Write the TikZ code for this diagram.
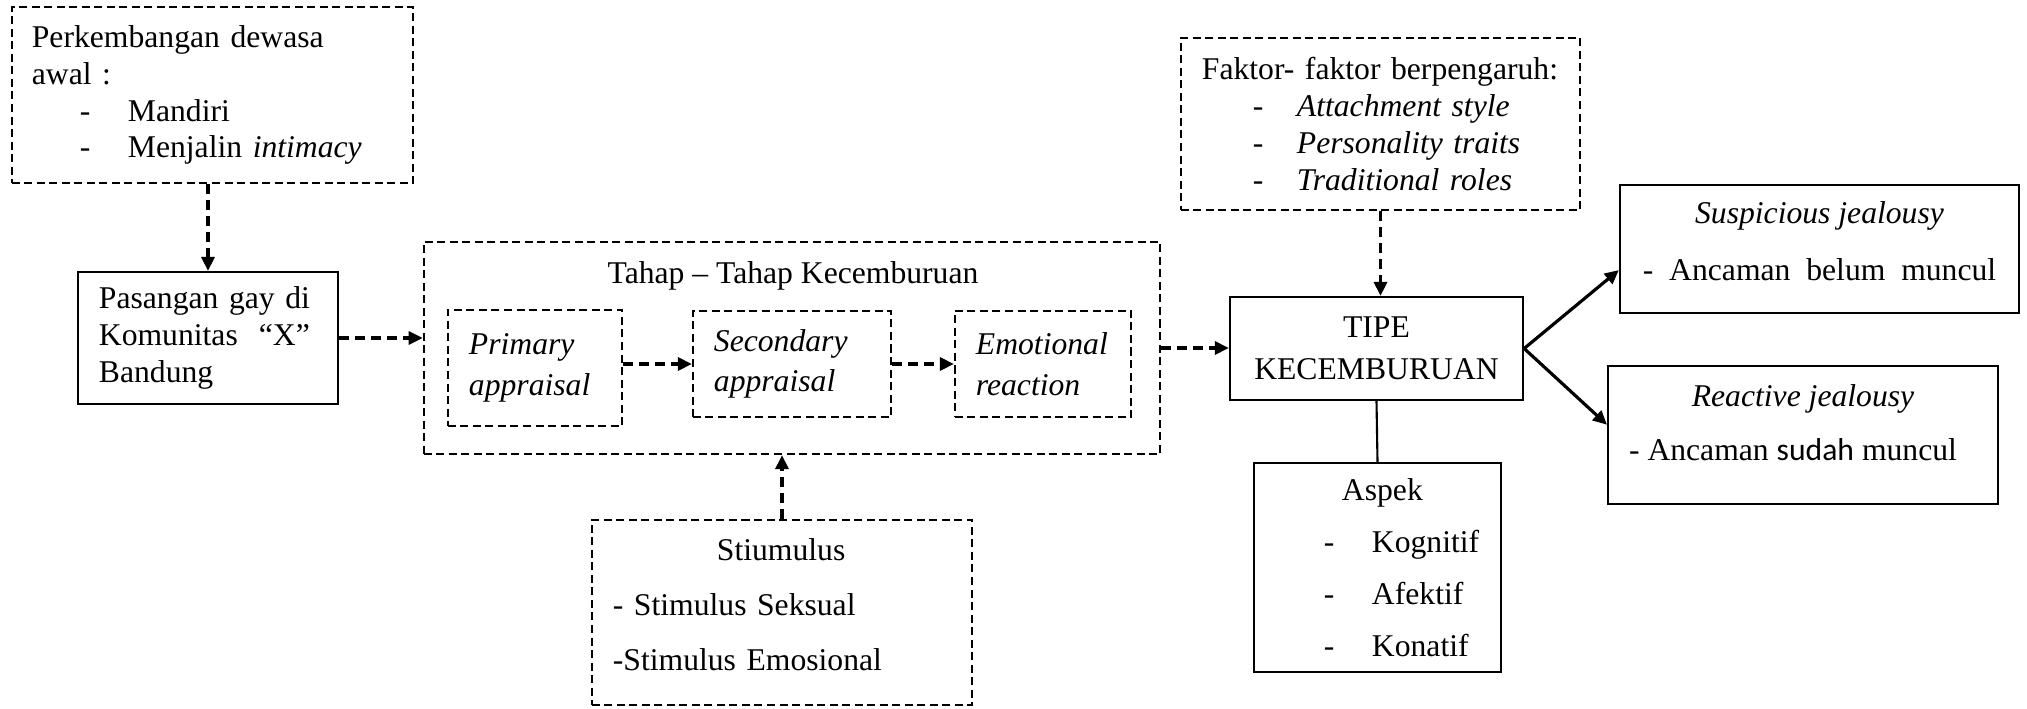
\documentclass[tikz,border=0pt]{standalone}
\usepackage{fontspec}
\setmainfont{Liberation Serif}
\newfontfamily\calibri{Carlito}
\usetikzlibrary{positioning,arrows.meta}

\newcommand{\butir}[3]{\hspace*{#1}\makebox[#2][l]{-}#3}

\begin{document}
\begin{tikzpicture}[
    x=0.01cm, y=-0.01cm,
    font=\fontsize{9}{10.5}\selectfont,
    >={Triangle[length=1.4mm,width=1.3mm]},
    dbox/.style={
        draw=black,
        dash pattern=on 0.8mm off 0.45mm,
        line width=0.6pt,
        inner sep=0pt,
        inner xsep=0.21cm,
        align=left
    },
    sbox/.style={
        draw=black,
        line width=0.6pt,
        inner sep=0pt,
        inner xsep=0.21cm,
        align=center
    },
    darrow/.style={->, line width=0.9pt, dash pattern=on 1mm off 0.6mm},
    sarrow/.style={->, line width=0.9pt}
]
    \useasboundingbox (0,0) rectangle (2027,709);

    \node[dbox, text width=3.61cm, inner xsep=0.2cm, minimum height=1.76cm] (kembang) at (212.5,95) {
        Perkembangan dewasa\\
        awal :\\
        \butir{4.8mm}{4.8mm}{Mandiri}\\
        \butir{4.8mm}{4.8mm}{Menjalin \textit{intimacy}}
    };

    \node[sbox, align=left, text width=2.18cm, minimum height=1.32cm] (pasangan) at (208,338) {
        Pasangan gay di\\
        Komunitas\ \ “X”\\
        Bandung
    };

    % tahap-tahap
    \node[dbox, minimum width=7.36cm, minimum height=2.12cm] (tahap) at (792,348) {};
    \node[anchor=base] (judul) at (793,283) {Tahap – Tahap Kecemburuan};

    \node[dbox, text width=1.32cm, minimum height=1.16cm, font=\fontsize{9}{11.5}\selectfont\itshape] (primer) at (535,368) {
        Primary\\appraisal
    };
    \node[dbox, text width=1.56cm, minimum height=1.06cm, font=\fontsize{9}{11.5}\selectfont\itshape] (sekunder) at (792,364) {
        Secondary\\appraisal
    };
    \node[dbox, text width=1.34cm, minimum height=1.06cm, font=\fontsize{9}{11.5}\selectfont\itshape] (emosi) at (1043,364) {
        Emotional\\reaction
    };

    \node[dbox, text width=3.38cm, minimum height=1.85cm, font=\fontsize{9}{15.7}\selectfont] (stimulus) at (782,612.5) {
        \hspace*{10.4mm}Stiumulus\\
        - Stimulus Seksual\\
        -Stimulus Emosional\rule[-1.6mm]{0pt}{0pt}
    };

    \node[dbox, text width=3.57cm, minimum height=1.72cm] (faktor) at (1380.5,124) {
        Faktor- faktor berpengaruh:\\
        \butir{5.1mm}{4.4mm}{\textit{Attachment style}}\\
        \butir{5.1mm}{4.4mm}{\textit{Personality traits}}\\
        \butir{5.1mm}{4.4mm}{\textit{Traditional roles}}
    };

    \node[sbox, minimum width=2.93cm, minimum height=1.03cm] (tipe) at (1376.5,348.5) {
        TIPE\\[1.4pt]KECEMBURUAN
    };

    \node[sbox, align=left, text width=2.07cm, inner xsep=0.2cm, minimum height=2.09cm, font=\fontsize{9}{14.8}\selectfont] (aspek) at (1377.5,567.5) {
        \hspace*{6.8mm}Aspek\\
        \butir{5.0mm}{4.8mm}{Kognitif}\\
        \butir{5.0mm}{4.8mm}{Afektif}\\
        \butir{5.0mm}{4.8mm}{Konatif}
    };

    \node[sbox, minimum width=3.99cm, minimum height=1.28cm, font=\fontsize{9}{16.2}\selectfont] (curiga) at (1819.5,249) {
        \textit{Suspicious jealousy}\\
        -\ \ Ancaman\ \ belum\ \ muncul\rule[-1.5mm]{0pt}{0pt}
    };

    \node[sbox, minimum width=3.88cm, minimum height=1.38cm, font=\fontsize{9}{15.6}\selectfont] (reaktif) at (1803,435) {
        \textit{Reactive jealousy}\\
        - Ancaman {\calibri sudah} muncul\hspace*{2mm}\rule[-2.5mm]{0pt}{0pt}
    };

    \draw[darrow] (kembang.south -| pasangan.north) -- (pasangan.north);
    \draw[darrow] (pasangan.east) -- (pasangan.east -| tahap.west);
    \draw[darrow] (primer.east |- sekunder.west) -- (sekunder.west);
    \draw[darrow] (sekunder.east) -- (emosi.west);
    \draw[darrow] (tahap.east) -- (tahap.east -| tipe.west);
    \draw[darrow] (stimulus.north) -- (stimulus.north |- tahap.south);
    \draw[darrow] (faktor.south) -- (faktor.south |- tipe.north);
    \draw[line width=0.6pt] (tipe.south) -- (aspek.north);
    \draw[sarrow] (tipe.east) -- (curiga.186.9);
    \draw[sarrow] (tipe.east) -- (reaktif.177.6);

\end{tikzpicture}
\end{document}
